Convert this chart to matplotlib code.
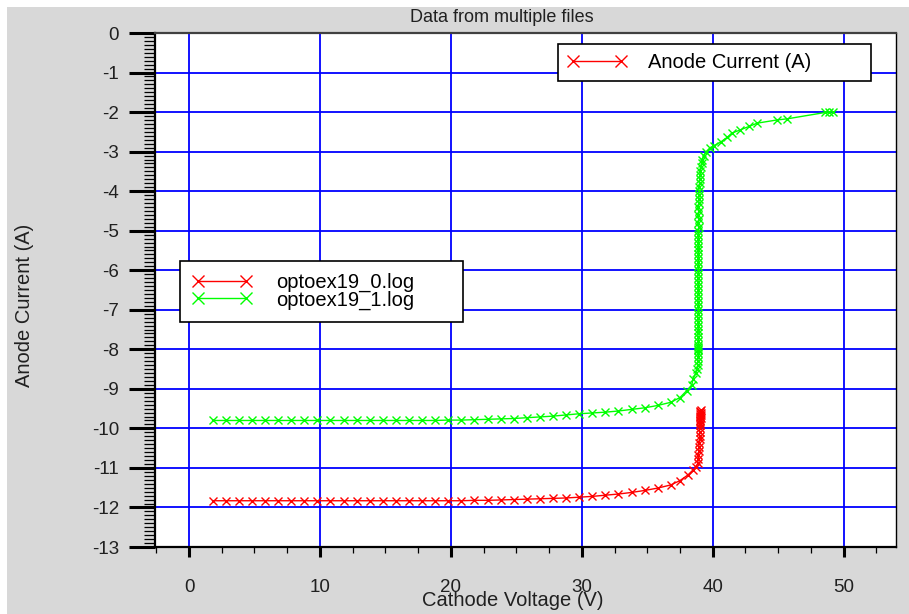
import matplotlib
matplotlib.use("Agg")
import matplotlib.pyplot as plt
from matplotlib.patches import Rectangle
from matplotlib.ticker import MultipleLocator

plt.rcParams['font.family'] = ['Liberation Sans', 'DejaVu Sans']
plt.rcParams['axes.unicode_minus'] = False

# optoex19_0.log (red)
v0 = [1.8, 2.8, 3.8, 4.8, 5.8, 6.8, 7.8, 8.8, 9.8, 10.8, 11.8, 12.8, 13.8, 14.8,
      15.8, 16.8, 17.8, 18.8, 19.8, 20.8, 21.8, 22.8, 23.8, 24.8, 25.8, 26.8,
      27.8, 28.8, 29.8, 30.8, 31.8, 32.8, 33.8, 34.8, 35.8, 36.8, 37.5, 38.1,
      38.5, 38.75, 38.85, 38.9, 38.9, 38.95, 38.95, 38.95, 39.0, 39.0, 39.0,
      39.0, 39.0, 39.05, 39.0, 39.05, 39.1, 39.0, 39.05, 39.1, 39.0, 39.1,
      39.05, 39.0, 39.1]
i0 = [-11.83, -11.83, -11.83, -11.83, -11.83, -11.83, -11.83, -11.83, -11.83,
      -11.83, -11.83, -11.83, -11.83, -11.83, -11.83, -11.83, -11.83, -11.83,
      -11.83, -11.83, -11.82, -11.82, -11.81, -11.80, -11.79, -11.78, -11.77,
      -11.76, -11.74, -11.72, -11.69, -11.66, -11.62, -11.57, -11.51, -11.43,
      -11.32, -11.18, -11.05, -10.98, -10.88, -10.78, -10.68, -10.58, -10.48,
      -10.38, -10.28, -10.18, -10.08, -9.98, -9.92, -9.86, -9.82, -9.78, -9.74,
      -9.72, -9.68, -9.66, -9.63, -9.61, -9.58, -9.56, -9.54]

# optoex19_1.log (green)
v1 = [1.8, 2.8, 3.8, 4.8, 5.8, 6.8, 7.8, 8.8, 9.8, 10.8, 11.8, 12.8, 13.8, 14.8,
      15.8, 16.8, 17.8, 18.8, 19.8, 20.8, 21.8, 22.8, 23.8, 24.8, 25.8, 26.8,
      27.8, 28.8, 29.8, 30.8, 31.8, 32.8, 33.8, 34.8, 35.8, 36.8, 37.5, 38.0,
      38.4, 38.5, 38.7, 38.8, 38.85, 38.85, 38.9, 38.9, 38.9, 38.85, 38.9,
      38.9, 38.9, 38.9, 38.85, 38.9, 38.9, 38.9, 38.85, 38.9, 38.9, 38.9,
      38.9, 38.85, 38.9, 38.9, 38.9, 38.9, 38.85, 38.9, 38.9, 38.9, 38.9,
      38.9, 38.9, 38.9, 38.9, 38.9, 38.9, 38.9, 38.9, 38.95, 38.9, 38.95,
      38.9, 38.95, 38.9, 38.95, 38.95, 38.95, 38.95, 38.95, 39.0, 39.0,
      39.05, 39.05, 39.1, 39.15, 39.2, 39.3, 39.5, 39.8, 40.1, 40.6, 41.1,
      41.5, 42.1, 42.8, 43.4, 44.9, 45.7, 48.6, 48.9, 49.2]
i1 = [-9.80, -9.80, -9.80, -9.80, -9.80, -9.80, -9.80, -9.80, -9.80, -9.80,
      -9.80, -9.80, -9.80, -9.80, -9.80, -9.80, -9.80, -9.80, -9.79, -9.79,
      -9.78, -9.77, -9.76, -9.75, -9.73, -9.71, -9.69, -9.66, -9.63, -9.61,
      -9.59, -9.56, -9.52, -9.48, -9.42, -9.34, -9.22, -9.05, -8.90, -8.75,
      -8.60, -8.50, -8.40, -8.30, -8.20, -8.10, -8.02, -7.98, -7.94, -7.90,
      -7.80, -7.70, -7.60, -7.50, -7.40, -7.30, -7.20, -7.10, -7.00, -6.90,
      -6.80, -6.70, -6.60, -6.50, -6.40, -6.30, -6.20, -6.10, -6.00, -5.90,
      -5.80, -5.70, -5.60, -5.50, -5.40, -5.30, -5.20, -5.10, -5.00, -4.90,
      -4.80, -4.70, -4.60, -4.50, -4.40, -4.30, -4.20, -4.10, -4.00, -3.90,
      -3.80, -3.70, -3.60, -3.50, -3.40, -3.30, -3.20, -3.10, -3.00, -2.90,
      -2.85, -2.76, -2.64, -2.53, -2.45, -2.36, -2.28, -2.20, -2.17, -2.01,
      -2.00, -1.99]

series_names = ["optoex19_0.log", "optoex19_1.log"]
series_colors = ["#ff0000", "#00ff00"]
x_ticks = [0, 10, 20, 30, 40, 50]
y_ticks = list(range(0, -14, -1))

fig = plt.figure(figsize=(9.09, 6.14), dpi=100, facecolor="#d8d8d8")
# thin white border at top and left of the screenshot
fig.patches.append(Rectangle((0, 1 - 7 / 614), 1, 7 / 614, transform=fig.transFigure,
                             facecolor="white", edgecolor="none"))
fig.patches.append(Rectangle((0, 0), 7 / 909, 1, transform=fig.transFigure,
                             facecolor="white", edgecolor="none"))

ax = fig.add_axes([155 / 909, 1 - 547 / 614, 741 / 909, 514 / 614])
ax.set_facecolor("white")

lines = []
for v, i, name, c in zip([v0, v1], [i0, i1], series_names, series_colors):
    ln, = ax.plot(v, i, color=c, marker="x", markersize=6, markeredgewidth=1,
                  linewidth=1, label=name, zorder=3)
    lines.append(ln)

ax.set_xlim(-2.6, 54.0)
ax.set_ylim(-13, 0)
ax.set_xticks(x_ticks)
ax.set_yticks(y_ticks)
ax.xaxis.set_minor_locator(MultipleLocator(2.5))
ax.yaxis.set_minor_locator(MultipleLocator(0.1))
ax.grid(True, which="major", color="#0000ff", linewidth=1.3, zorder=1)
ax.set_axisbelow(True)

ax.tick_params(axis="y", which="major", direction="out", length=19, width=2.2,
               pad=7, labelsize=13.5, labelcolor="#202020")
ax.tick_params(axis="y", which="minor", direction="out", length=8, width=0.9)
ax.tick_params(axis="x", which="major", direction="out", length=7, width=2.2,
               pad=16, labelsize=13.5, labelcolor="#202020")
ax.tick_params(axis="x", which="minor", direction="out", length=4.5, width=0.9)

for side in ["left", "bottom", "top"]:
    ax.spines[side].set_linewidth(1.6)
ax.spines["top"].set_color("#404040")
ax.spines["right"].set_linewidth(1.0)

ax.set_xlabel("Cathode Voltage (V)", fontsize=14.5, color="#202020")
ax.set_ylabel("Anode Current (A)", fontsize=14.5, color="#202020")
ax.xaxis.label.set_va("center")
ax.yaxis.label.set_va("center")
ax.xaxis.set_label_coords((513 - 155) / 741, (547 - 601) / 514)
ax.yaxis.set_label_coords((25 - 155) / 741, (547 - 305) / 514)

fig.text(502 / 909, 1 - 18 / 614, "Data from multiple files", ha="center",
         va="center", fontsize=13, color="#202020")

# legend for the plotted quantity
qty_handle = plt.Line2D([], [], color="#ff0000", marker="x", markersize=9,
                        markeredgewidth=1, linewidth=1)
leg1 = ax.legend([qty_handle], ["Anode Current (A)"], loc="upper left",
                 bbox_to_anchor=((558 - 155) / 741, (547 - 81) / 514,
                                 313 / 741, 37 / 514),
                 mode="expand", borderaxespad=0, fontsize=14.5, handlelength=3,
                 handletextpad=1, borderpad=0.45, numpoints=2, fancybox=False,
                 framealpha=1, edgecolor="black")
leg1.get_frame().set_linewidth(1.2)
ax.add_artist(leg1)

# legend for the files
leg2 = ax.legend(lines, series_names, loc="upper left",
                 bbox_to_anchor=((180 - 155) / 741, (547 - 318) / 514,
                                 283 / 741, 57 / 514),
                 mode="expand", borderaxespad=0, fontsize=14.5, handlelength=3,
                 handletextpad=1.15, borderpad=0.6, labelspacing=-0.1, numpoints=2,
                 fancybox=False, framealpha=1, edgecolor="black", markerscale=1.5)
leg2.get_frame().set_linewidth(1.2)

fig.savefig("out.png", dpi=100, facecolor=fig.get_facecolor())
